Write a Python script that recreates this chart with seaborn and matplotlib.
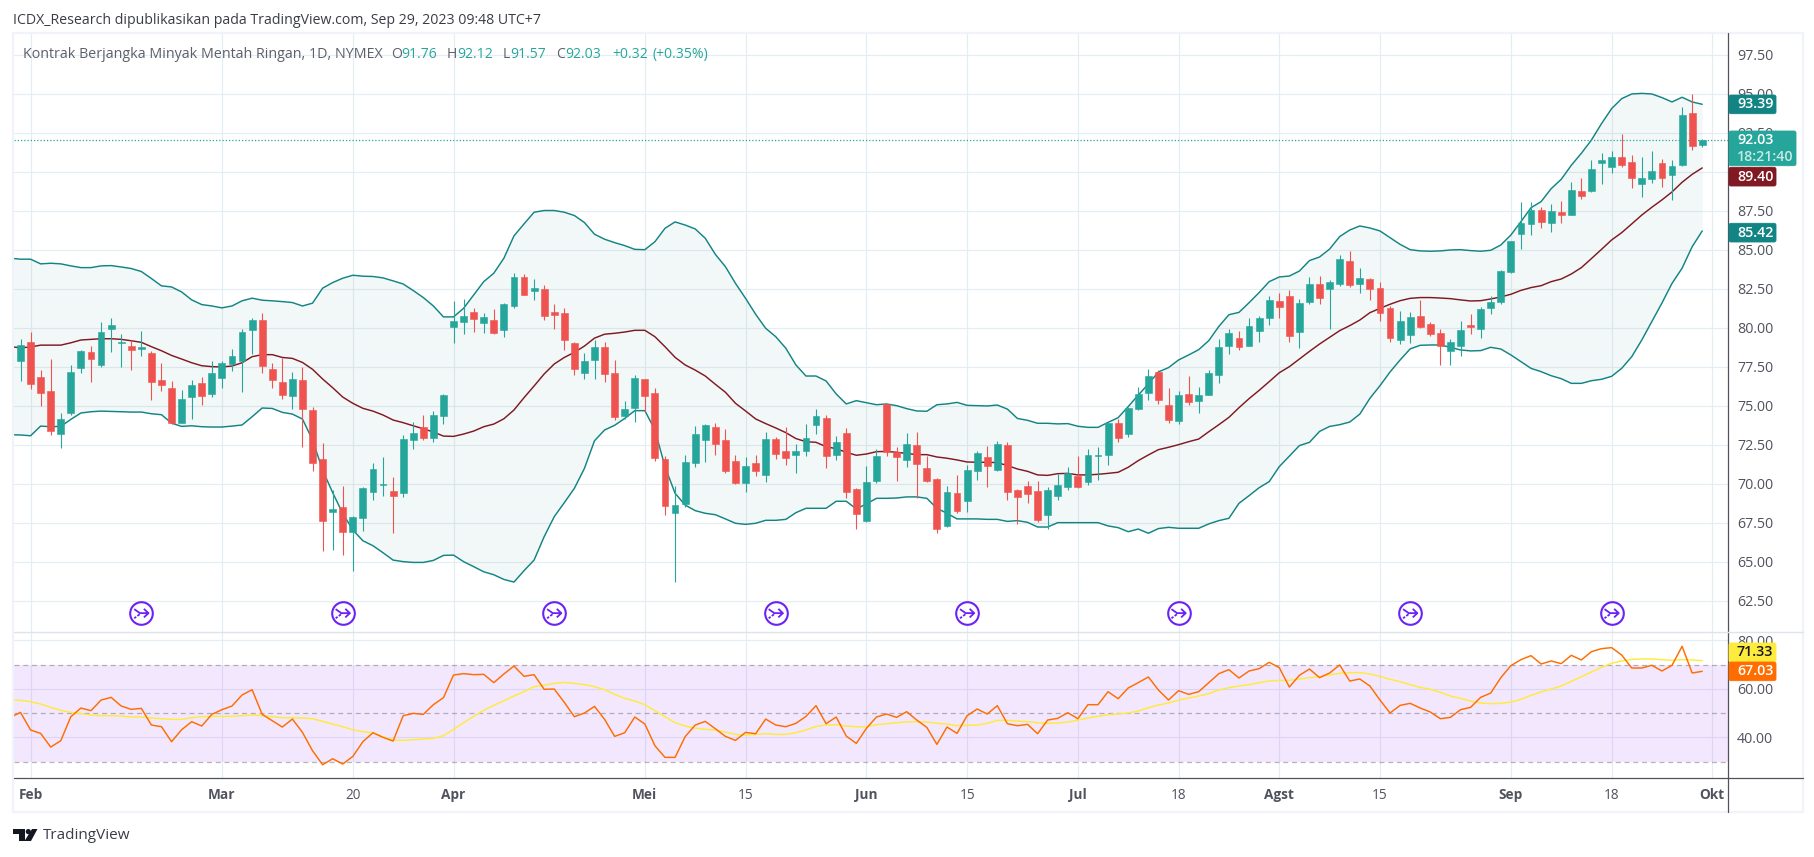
import numpy as np
import matplotlib
matplotlib.use("Agg")
import matplotlib.pyplot as plt
from matplotlib.patches import Rectangle, FancyBboxPatch, Circle, Polygon
from matplotlib.path import Path
import seaborn as sns

sns.set_style("white")
plt.rcParams['font.family'] = ['Open Sans', 'DejaVu Sans']

opens = [77.88,79.10,76.85,75.96,73.20,74.52,77.43,78.46,77.62,79.93,79.05,78.84,78.65,78.39,76.66,76.15,73.90,75.57,76.47,75.76,
76.79,77.69,77.88,79.87,80.51,77.37,76.53,75.63,76.66,74.74,71.60,68.20,68.52,66.92,67.82,69.48,69.95,69.55,69.42,72.82,
73.65,72.94,74.35,80.06,80.38,81.02,80.32,80.51,79.87,81.41,83.26,82.37,82.50,81.02,80.96,79.03,77.11,77.94,78.78,77.11,
74.36,74.87,76.73,75.83,71.60,68.14,68.72,71.34,72.82,73.65,72.82,71.47,70.06,71.34,70.58,72.88,72.11,71.86,72.11,73.78,
74.23,71.86,73.27,69.68,67.63,70.19,75.13,72.05,71.54,72.50,71.02,70.32,67.31,69.42,68.91,70.83,71.73,70.89,72.50,69.61,
69.87,69.55,68.01,69.23,69.81,70.51,70.13,71.81,71.86,73.91,73.21,74.81,75.83,77.18,75.06,74.04,75.77,75.32,75.70,76.99,
78.84,79.36,78.84,79.81,80.64,81.73,82.05,79.74,81.67,82.82,82.50,82.82,84.29,82.82,83.14,82.56,81.28,79.23,79.55,80.77,
80.25,79.68,78.52,78.84,80.19,79.93,81.28,81.67,83.59,86.02,86.67,87.56,86.73,87.43,87.24,88.78,88.78,90.58,90.32,90.96,
90.64,89.23,89.55,90.58,89.81,90.45,93.78,91.76]
highs = [79.29,79.72,77.30,78.01,74.55,77.62,78.58,78.84,80.38,80.64,79.61,79.23,79.80,78.52,77.75,76.60,76.02,76.66,76.85,77.88,
77.88,78.65,79.93,80.64,80.96,77.75,78.07,77.17,77.49,74.93,72.62,69.61,69.87,67.94,69.80,71.34,71.73,70.44,73.14,73.97,
74.41,74.67,75.76,81.73,81.83,81.28,80.96,81.21,81.60,83.52,83.46,83.14,82.75,81.53,81.28,79.10,78.39,79.23,79.10,77.95,
75.32,76.99,76.73,76.15,71.79,69.87,71.86,73.72,73.84,73.90,73.52,71.86,71.73,71.86,73.33,73.01,73.65,72.56,73.84,74.81,
74.42,73.07,73.59,69.74,71.15,72.24,75.13,72.37,73.27,73.33,71.79,70.38,69.87,70.58,71.21,72.11,72.43,72.75,72.69,69.68,
70.19,70.19,69.81,70.64,71.09,71.79,72.24,72.37,73.97,74.17,74.94,76.22,77.37,77.31,76.15,75.96,76.92,76.22,77.31,79.29,
79.93,79.81,80.64,80.77,82.05,82.24,82.43,81.86,83.27,83.33,83.08,84.68,84.93,83.85,83.22,82.95,81.41,81.09,81.02,81.79,
80.38,79.93,79.29,80.45,80.90,81.35,82.05,83.72,85.58,88.08,88.08,87.76,87.95,88.14,89.36,89.61,90.77,91.22,91.35,92.44,
91.09,90.96,91.35,90.83,90.77,94.17,95.00,92.12]
lows = [76.60,76.08,74.99,73.13,72.30,74.42,77.11,76.53,77.49,78.46,77.49,77.30,78.20,75.38,75.96,73.84,73.90,74.16,75.05,75.57,
76.15,77.24,75.89,78.33,77.11,76.15,75.44,74.80,72.37,70.83,65.70,65.76,65.44,64.42,66.98,68.97,69.23,66.85,69.16,72.24,
72.82,72.69,73.84,79.03,79.61,79.74,79.67,79.61,79.42,81.28,82.11,81.81,80.51,79.93,78.58,76.98,76.73,76.73,76.53,74.10,
74.16,73.97,74.61,71.47,68.01,63.71,68.52,71.09,71.41,71.86,70.70,70.00,69.48,70.51,70.13,71.60,71.21,70.70,71.79,73.20,
71.02,71.54,69.10,67.11,67.56,70.06,71.79,70.19,71.09,69.10,70.13,66.86,67.24,68.14,68.20,70.25,69.81,70.83,68.97,67.43,
68.78,67.56,67.11,68.97,69.61,69.74,69.93,70.26,71.21,72.69,73.01,74.74,75.38,75.13,73.91,73.84,75.06,74.55,75.70,76.47,
78.33,78.59,78.84,79.10,80.19,80.64,79.10,78.72,81.54,81.54,79.93,82.69,82.63,82.24,81.79,80.45,79.10,78.97,79.04,80.00,
79.49,77.63,77.63,78.20,79.61,79.36,80.90,81.54,83.50,85.06,85.96,86.41,86.15,86.73,87.24,88.27,88.72,89.23,89.94,90.32,
88.97,88.40,89.29,89.04,88.20,90.38,91.41,91.57]
closes = [78.91,76.40,75.83,73.39,74.16,77.17,78.52,78.01,79.74,80.19,79.10,78.58,78.76,76.53,76.34,73.90,75.44,76.34,75.63,77.11,
77.75,78.20,79.74,80.51,77.56,76.66,75.70,76.73,74.80,71.34,67.62,68.39,66.92,67.88,69.74,70.96,69.99,69.23,72.88,73.26,
72.94,74.41,75.70,80.44,80.76,80.57,80.70,79.67,81.53,83.26,82.11,82.56,80.76,80.83,79.23,77.37,77.88,78.78,77.05,74.29,
74.81,76.79,75.64,71.66,68.59,68.65,71.41,73.20,73.78,72.56,70.83,70.06,71.15,70.83,72.88,71.92,71.66,72.11,72.95,74.36,
71.79,72.69,69.49,68.07,70.13,71.79,72.05,71.73,72.56,71.28,70.19,67.11,69.48,68.27,70.89,71.99,71.15,72.56,69.48,69.16,
69.36,67.69,69.61,69.93,70.70,69.81,71.86,71.86,73.91,72.95,74.87,75.77,76.92,75.38,74.10,75.70,75.25,75.70,77.11,78.78,
79.68,78.78,80.13,80.64,81.79,81.35,79.49,81.60,82.82,81.92,82.95,84.42,82.76,83.22,82.50,80.96,79.36,80.45,80.70,80.06,
79.61,78.84,79.10,79.87,80.06,81.22,81.67,83.65,85.58,86.73,87.56,86.79,87.50,87.24,88.85,88.46,90.19,90.77,90.96,90.45,
89.62,89.62,90.06,89.62,90.38,93.65,91.67,92.03]

# Bollinger bands, first value belongs to the bar just left of the first candle
upper = [84.47,84.41,84.41,84.11,84.15,84.11,83.98,83.87,83.87,83.98,84.00,83.91,83.81,83.62,83.17,82.70,82.63,82.31,81.80,81.50,
81.41,81.29,81.41,81.74,81.91,81.78,81.74,81.69,81.63,81.41,81.59,82.55,82.91,83.19,83.38,83.32,83.30,83.21,83.02,82.82,
82.40,81.95,81.41,80.71,80.71,81.26,82.12,82.97,83.51,84.47,85.90,86.67,87.42,87.53,87.53,87.42,87.21,86.76,86.01,85.69,
85.47,85.28,85.04,85.02,85.53,86.39,86.80,86.60,86.35,85.75,84.72,83.93,82.86,81.90,80.88,79.98,79.44,78.70,77.63,76.92,
76.92,76.60,75.77,75.13,75.34,75.21,75.08,75.13,75.02,74.83,74.68,74.66,75.08,75.13,75.23,75.04,75.02,75.00,75.06,74.80,
74.20,74.08,73.89,73.89,73.85,73.87,73.70,73.63,73.63,73.95,74.25,74.96,75.70,76.41,77.18,77.46,77.95,78.27,78.61,79.19,
80.10,80.85,81.00,81.62,82.27,82.97,83.27,83.33,83.65,84.32,84.55,85.06,85.86,86.28,86.54,86.41,86.22,85.79,85.36,85.02,
84.94,84.92,84.94,85.00,85.02,84.96,84.92,84.98,85.32,85.96,86.82,87.71,88.10,88.93,89.53,90.43,91.20,92.05,93.10,94.06,
94.70,95.00,95.04,95.00,94.77,94.49,94.79,94.49,94.34]
middle = [78.80,78.73,78.78,78.90,78.90,78.90,79.05,79.23,79.27,79.31,79.31,79.27,79.18,79.08,78.80,78.54,78.24,78.01,77.77,77.58,
77.52,77.50,77.56,77.77,78.16,78.29,78.29,78.11,78.05,77.79,77.35,76.73,76.17,75.57,75.17,74.85,74.67,74.42,74.10,73.93,
73.73,73.54,73.33,73.07,73.05,73.20,73.39,73.67,73.84,74.18,74.74,75.53,76.28,77.05,77.69,78.11,78.44,78.84,79.35,79.60,
79.66,79.74,79.85,79.85,79.44,78.80,78.12,77.63,77.30,76.92,76.39,75.88,75.17,74.68,74.17,73.87,73.59,73.29,72.91,72.71,
72.67,72.39,72.26,72.03,71.84,71.92,72.07,72.09,72.03,71.96,71.88,71.88,71.73,71.65,71.54,71.41,71.39,71.39,71.37,71.18,
70.96,70.81,70.58,70.55,70.66,70.68,70.58,70.58,70.62,70.68,70.75,71.07,71.50,71.86,72.20,72.35,72.52,72.71,72.88,73.35,
73.80,74.27,74.89,75.47,76.00,76.56,77.13,77.52,78.01,78.50,78.97,79.40,79.83,80.15,80.51,80.98,81.26,81.52,81.75,81.90,
81.95,81.95,81.92,81.88,81.80,81.73,81.75,81.86,81.99,82.16,82.41,82.59,82.71,82.97,83.14,83.46,83.87,84.45,85.04,85.64,
86.11,86.67,87.24,87.74,88.21,88.72,89.34,89.85,90.26]
lower = [73.16,73.14,73.09,73.71,73.67,73.69,74.14,74.55,74.63,74.67,74.65,74.63,74.61,74.61,74.50,74.44,73.90,73.69,73.73,73.67,
73.65,73.65,73.71,73.78,74.31,74.87,74.84,74.59,74.48,74.16,72.82,70.89,69.44,68.11,67.05,66.36,66.04,65.59,65.12,65.02,
64.97,64.97,65.10,65.42,65.44,65.02,64.70,64.37,64.18,63.88,63.71,64.44,65.12,66.62,67.90,68.80,69.72,71.00,72.77,73.46,
73.76,74.20,74.70,74.70,73.46,71.11,69.40,68.65,68.29,68.12,68.03,67.76,67.48,67.41,67.48,67.67,67.67,67.73,68.16,68.44,
68.44,68.44,68.89,68.89,68.40,68.72,69.08,69.08,69.10,69.17,69.17,69.08,68.44,68.12,67.76,67.76,67.76,67.73,67.73,67.60,
67.65,67.54,67.24,67.24,67.52,67.52,67.52,67.52,67.52,67.31,67.20,66.94,67.11,66.84,67.14,67.22,67.16,67.16,67.16,67.44,
67.65,67.80,68.76,69.25,69.76,70.15,71.11,71.79,72.46,72.67,73.37,73.69,73.80,73.97,74.48,75.49,76.30,77.18,77.95,78.66,
78.89,78.91,78.91,78.76,78.59,78.53,78.55,78.76,78.65,78.27,77.84,77.41,77.20,76.94,76.75,76.45,76.45,76.62,76.71,76.90,
77.41,78.16,79.23,80.41,81.60,82.86,83.83,85.21,86.22]

rsi = [48.22,50.28,43.00,41.62,35.98,38.59,48.50,52.07,50.97,55.37,56.47,52.90,51.52,51.94,45.06,44.37,38.18,43.13,46.43,44.65,
49.46,51.39,52.90,57.44,59.64,49.46,46.85,44.23,47.53,42.03,34.47,28.69,31.17,28.97,32.13,38.18,41.89,39.97,38.46,48.91,
49.87,49.46,53.45,56.34,65.69,66.24,65.83,65.97,62.53,66.10,69.40,65.14,65.83,59.78,59.91,54.41,48.50,50.01,52.76,47.40,
40.38,41.89,48.36,45.47,36.53,31.72,31.72,40.24,45.06,46.57,43.54,40.38,38.73,42.03,41.48,47.53,45.06,44.37,45.75,48.63,
53.04,45.61,48.36,40.52,37.49,43.68,48.36,49.60,48.22,50.56,47.12,44.09,37.08,44.23,41.62,48.91,51.66,49.60,53.04,45.61,
44.78,45.33,41.48,47.12,47.81,50.15,47.67,53.45,53.45,58.81,55.92,60.33,62.53,64.87,59.50,55.37,59.23,57.71,58.81,62.53,
66.24,67.89,64.45,67.34,68.30,70.92,68.72,60.74,65.55,68.17,64.59,66.52,69.82,63.20,64.04,61.15,55.37,50.01,53.17,54.00,
52.07,50.42,47.67,48.22,51.39,52.35,56.47,58.26,64.59,69.54,72.02,73.67,70.23,71.47,70.37,73.81,71.88,75.32,76.56,76.97,
73.94,68.58,68.58,69.68,67.34,69.68,77.52,66.52,67.20]
rsi_ma = [55.37,55.24,54.69,53.72,52.35,51.11,50.28,49.73,49.18,48.91,48.91,48.77,48.36,48.36,47.95,47.67,47.40,47.40,48.08,48.50,
48.63,48.63,48.63,48.91,49.18,48.91,48.50,48.08,48.08,47.95,47.67,46.57,45.47,44.37,43.13,42.31,41.89,40.24,38.87,38.73,
39.00,39.28,39.56,40.66,43.27,46.02,48.63,51.11,53.17,55.10,57.03,58.81,60.88,61.43,62.25,62.66,62.25,61.70,60.88,59.64,
57.71,56.06,54.96,53.45,50.97,48.50,46.02,44.65,43.82,43.27,43.00,42.17,41.21,40.93,41.21,41.48,41.21,41.21,41.89,43.00,
44.51,45.06,45.20,44.65,44.37,44.37,45.20,45.61,46.02,46.30,46.43,46.30,45.75,45.47,44.78,44.92,45.06,45.75,46.98,46.98,
46.71,46.43,46.02,45.75,45.88,46.30,47.12,47.95,48.63,49.32,49.60,50.01,50.84,52.21,53.31,54.14,55.37,56.20,57.03,57.99,
59.50,60.46,61.15,61.70,62.53,63.21,63.49,63.49,64.04,64.59,65.00,65.69,66.38,66.65,66.65,66.10,65.14,63.90,62.94,61.70,
60.60,59.78,58.54,57.03,56.06,54.96,54.14,53.86,54.00,54.55,55.65,57.30,58.68,59.91,61.15,63.08,65.00,66.93,68.85,70.50,
71.47,72.16,72.29,72.29,72.02,71.74,72.02,71.88,71.61]

price_ticks = [62.5,65,67.5,70,72.5,75,77.5,80,82.5,85,87.5,90,92.5,95,97.5]
rsi_ticks = [40,60,80]
rsi_levels = [30,50,70]
date_bars = [1,20,33,43,62,72,84,94,105,115,125,135,148,158,168]
date_labels = ['Feb','Mar','20','Apr','Mei','15','Jun','15','Jul','18','Agst','15','Sep','18','Okt']
month_labels = {'Feb','Mar','Apr','Mei','Jun','Jul','Agst','Sep','Okt'}
event_bars = [12,32,53,75,94,115,138,158]
last_close = closes[-1]

GREEN, RED = '#26a69a', '#ef5350'
TEAL, MAROON = '#138484', '#801922'
GRID = '#e4edf3'
W, H = 1815, 857
fig = plt.figure(figsize=(W/100, H/100), dpi=100, facecolor='white')
L, R, T, M, B = 14, 1728, 33, 632, 778
ax = fig.add_axes([L/W, 1-M/H, (R-L)/W, (M-T)/H])
ar = fig.add_axes([L/W, 1-B/H, (R-L)/W, (B-M)/H], sharex=ax)
xlim = (-0.6455, 169.56)

bars = np.arange(len(closes))
bx = np.arange(-1, len(closes))
o, c, h, l = map(np.array, (opens, closes, highs, lows))
col = np.where(c >= o, GREEN, RED)

# price pane
ax.fill_between(bx, lower, upper, color=TEAL, alpha=0.05, lw=0, zorder=1)
sns.lineplot(x=bx, y=upper, ax=ax, color=TEAL, lw=1.05, estimator=None, zorder=2)
sns.lineplot(x=bx, y=lower, ax=ax, color=TEAL, lw=1.05, estimator=None, zorder=2)
sns.lineplot(x=bx, y=middle, ax=ax, color=MAROON, lw=1.05, estimator=None, zorder=2)
ax.axhline(last_close, color=GREEN, lw=0.9, ls=(0, (1, 1.6)), zorder=2)
ax.vlines(bars, l, h, colors=col, lw=0.8, zorder=3)
ax.bar(bars, np.abs(c-o), bottom=np.minimum(o, c), width=0.68, color=col, edgecolor=col, lw=0.4, zorder=4)
ax.set_ylim(60.51, 98.91)
ax.set_yticks(price_ticks)
ax.set_yticklabels([f'{v:.2f}' for v in price_ticks])

# event icons
arrow = Path([(-.5,.28),(-.1,0),(.5,0),(.18,.3),(.5,0),(.18,-.3),(-.12,-.08),(-.28,-.2),(-.36,-.26),(-.5,-.36)],
             [Path.MOVETO,Path.LINETO,Path.LINETO,Path.LINETO,Path.MOVETO,Path.LINETO,Path.MOVETO,Path.LINETO,Path.MOVETO,Path.LINETO])
tr = ax.get_xaxis_transform()
ey = [0.0315]*len(event_bars)
ax.scatter(event_bars, ey, s=265, facecolors='white', edgecolors='#6a22f5', lw=1.5, transform=tr, zorder=5, clip_on=False)
ax.scatter(event_bars, ey, s=105, marker=arrow, facecolors='none', edgecolors='#6a22f5', lw=1.3, transform=tr, zorder=6, clip_on=False)

# RSI pane
ar.axhspan(rsi_levels[0], rsi_levels[2], color='#8e1bf5', alpha=0.1, lw=0, zorder=1)
for v in rsi_levels:
    ar.axhline(v, color='#787b86', alpha=0.55, lw=0.9, ls=(0, (4, 3)), zorder=2)
sns.lineplot(x=bx, y=rsi_ma, ax=ar, color='#ffeb3b', lw=1.05, estimator=None, zorder=3)
sns.lineplot(x=bx, y=rsi, ax=ar, color='#ff6d00', lw=1.05, estimator=None, zorder=4)
ar.set_ylim(23.22, 83.42)
ar.set_yticks(rsi_ticks)
ar.set_yticklabels([f'{v:.2f}' for v in rsi_ticks])
ar.set_xlim(*xlim)
ar.set_xticks(date_bars)
ar.set_xticklabels(date_labels)
for t in ar.get_xticklabels():
    t.set_fontweight('bold' if t.get_text() in month_labels else 'normal')
    t.set_color('#50535e')
    t.set_fontsize(9.8)

for a in (ax, ar):
    a.set_facecolor('white')
    a.set_axisbelow(True)
    a.grid(True, color=GRID, lw=0.85)
    for s in a.spines.values():
        s.set_visible(False)
    a.yaxis.tick_right()
    a.tick_params(axis='y', length=0, pad=6.5, labelsize=10.3, labelcolor='#50535e')
    a.tick_params(axis='x', length=0, pad=7.5)
    a.set_xlabel('')
    a.set_ylabel('')
ax.tick_params(axis='x', labelbottom=False)

# overlay in pixel units: frame, header, price badges, logo
ov = fig.add_axes([0, 0, 1, 1], zorder=10)
ov.set_xlim(0, W); ov.set_ylim(H, 0); ov.axis('off'); ov.patch.set_alpha(0)
ov.add_patch(Rectangle((13, T), 1790, 779, fill=False, ec='#f0f3fa', lw=1.6))
ov.plot([R, R], [T, 812], color='#50535e', lw=0.9)
ov.plot([L, 1803], [B, B], color='#50535e', lw=0.9)
ov.plot([L, 1803], [M, M], color='#e0e3eb', lw=1.0)

def txt(x, y, s, color, size=10.0, **k):
    ov.text(x, y, s, color=color, fontsize=size, va='center', ha=k.pop('ha', 'left'), **k)

txt(13, 20, 'ICDX_Research dipublikasikan pada TradingView.com, Sep 29, 2023 09:48 UTC+7', '#3a3d46', 10.2)
txt(23, 54, 'Kontrak Berjangka Minyak Mentah Ringan, 1D, NYMEX', '#5d606b', 10.25)
for x, s, col_ in [(391, 'O', '#5d606b'), (401, '91.76', GREEN), (447, 'H', '#5d606b'), (457, '92.12', GREEN),
                   (503, 'L', '#5d606b'), (510, '91.57', GREEN), (556, 'C', '#5d606b'), (565, '92.03', GREEN),
                   (612, '+0.32', GREEN), (653, '(+0.35%)', GREEN)]:
    txt(x, 54, s, col_, 10.1)

def badge(y0, y1, x1, face, lines, fg, alphas=None):
    ov.add_patch(FancyBboxPatch((R+1, y0), x1-R-2, y1-y0, boxstyle='round,pad=0,rounding_size=2', fc=face, ec=face, lw=0.6, zorder=20))
    n = len(lines)
    for i, s in enumerate(lines):
        ym = y0 + (y1-y0)*(i+0.5)/n
        ov.text(1737, ym, s, color=fg, alpha=(alphas[i] if alphas else 1), fontsize=10.3, fontweight='semibold', va='center', zorder=21)

badge(95, 113.7, 1777, TEAL, ['93.39'], 'white')
badge(131, 165.7, 1797, GREEN, ['92.03', '18:21:40'], 'white', [1, 0.75])
badge(167.3, 186, 1777, MAROON, ['89.40'], 'white')
badge(223.3, 242, 1777, TEAL, ['85.42'], 'white')
badge(643, 662, 1777, '#ffeb3b', ['71.33'], '#131722')
badge(662, 680.7, 1777, '#ff6d00', ['67.03'], 'white')

# logo + wordmark
ov.add_patch(Polygon([(13,829),(25,829),(25,841),(19,841),(19,834),(13,834)], closed=True, fc='#131722', ec='none'))
ov.add_patch(Circle((28.3,831.6), 2.6, fc='#131722', ec='none'))
ov.add_patch(Polygon([(32,829),(37.5,829),(31,841),(24.5,841)], closed=True, fc='#131722', ec='none'))
txt(43, 835.5, 'TradingView', '#3a3d46', 11.0)

fig.savefig('out.png', dpi=100)
